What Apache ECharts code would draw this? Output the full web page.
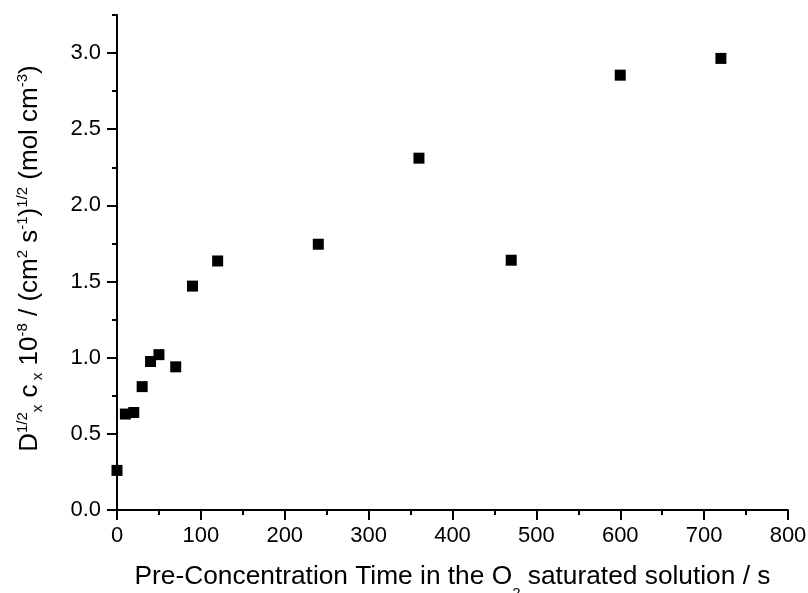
<!DOCTYPE html>
<html><head><meta charset="utf-8">
<script src="https://cdn.jsdelivr.net/npm/echarts@6/dist/echarts.min.js"></script>
<style>html,body{margin:0;padding:0;background:#fff}#c{width:808px;height:593px}</style>
</head><body><div id="c"></div>
<script>
const timeSeconds = [0, 10, 20, 30, 40, 50, 70, 90, 120, 240, 360, 470, 600, 720];
const signalValues = [0.26, 0.63, 0.64, 0.81, 0.975, 1.02, 0.94, 1.47, 1.635, 1.745, 2.31, 1.64, 2.855, 2.965];
const yTickValues = [0, 0.5, 1.0, 1.5, 2.0, 2.5, 3.0];
const xTickValues = [0, 100, 200, 300, 400, 500, 600, 700, 800];

const FONT = '"Liberation Sans", Arial, Helvetica, sans-serif';
const chart = echarts.init(document.getElementById('c'), null, {renderer: 'canvas'});
const lineStyle = {color: '#000', width: 2};

chart.setOption({
  animation: false,
  backgroundColor: '#fff',
  grid: {left: 117, right: 20, top: 15, bottom: 83, containLabel: false, outerBoundsMode: 'none'},
  xAxis: {
    type: 'value', min: 0, max: 800, interval: 100,
    axisLine: {show: true, onZero: false, lineStyle: lineStyle},
    axisTick: {show: true, inside: false, length: 10, lineStyle: lineStyle},
    minorTick: {show: true, splitNumber: 2, length: 5, lineStyle: lineStyle},
    splitLine: {show: false},
    axisLabel: {color: '#000', fontSize: 22, fontFamily: FONT, margin: 15},
    name: '{b|Pre-Concentration Time in the O}{sub|2}{b| saturated solution / s}',
    nameLocation: 'middle', nameGap: 41.5,
    nameTextStyle: {
      color: '#000', fontFamily: FONT, fontSize: 26,
      rich: {
        b: {fontSize: 26.3, lineHeight: 50, fontFamily: FONT, color: '#000'},
        sub: {fontSize: 15, lineHeight: 20, verticalAlign: 'bottom', fontFamily: FONT, color: '#000'}
      }
    }
  },
  yAxis: [{
    type: 'value', min: 0, max: 3.25, interval: 0.5, position: 'left',
    axisLine: {show: true, onZero: false, lineStyle: lineStyle},
    axisTick: {show: true, inside: false, length: 10, lineStyle: lineStyle, customValues: yTickValues},
    splitLine: {show: false},
    axisLabel: {color: '#000', fontSize: 22, fontFamily: FONT, margin: 16,
      customValues: yTickValues, formatter: v => v.toFixed(1)},
    name: '{b|D}{sup|1/2}{sub|x}{b| c}{sub| x}{b| 10}{sup|-8}{b| / (cm}{sup|2}{b| s}{sup|-1}{b|)}{sup|1/2}{b| (mol cm}{sup|-3}{b|)}',
    nameLocation: 'middle', nameGap: 72,
    nameTextStyle: {
      color: '#000', fontFamily: FONT, fontSize: 26,
      padding: [0, 0, 0, 8],
      rich: {
        b: {fontSize: 26, lineHeight: 30, fontFamily: FONT, color: '#000'},
        sup: {fontSize: 15, lineHeight: 17, verticalAlign: 'top', fontFamily: FONT, color: '#000'},
        sub: {fontSize: 15, lineHeight: 20, verticalAlign: 'bottom', fontFamily: FONT, color: '#000'}
      }
    }
  }, {
    type: 'value', min: 0, max: 3.25, interval: 0.25, position: 'left', offset: 0,
    axisLine: {show: false},
    axisTick: {show: true, inside: false, length: 5, lineStyle: lineStyle},
    axisLabel: {show: false},
    splitLine: {show: false}
  }],
  series: [{
    type: 'scatter', xAxisIndex: 0, yAxisIndex: 0,
    symbol: 'rect', symbolSize: 11,
    itemStyle: {color: '#000', opacity: 1},
    data: timeSeconds.map((t, i) => [t, signalValues[i]])
  }]
});
</script></body></html>
